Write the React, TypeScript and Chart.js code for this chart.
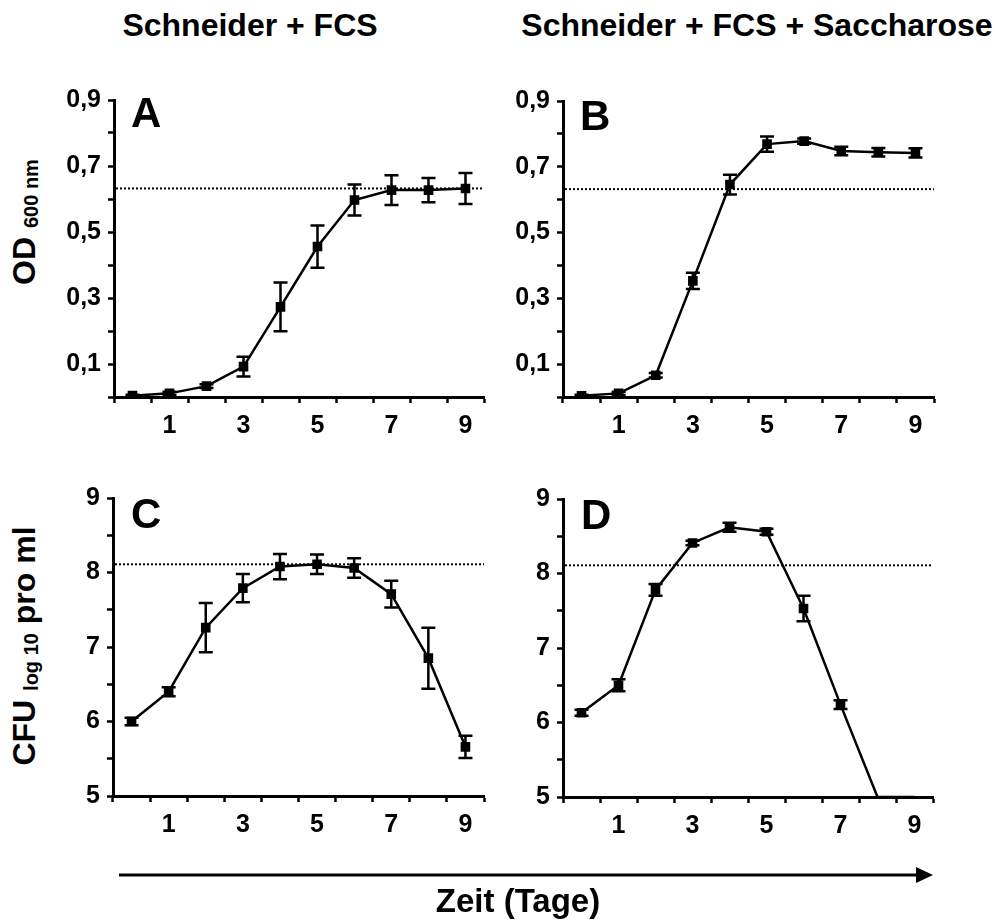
import React, { useEffect, useRef } from 'react';
import { Chart, registerables } from 'chart.js';

Chart.register(...registerables);

const FONT = '"Liberation Sans", Arial, Helvetica, sans-serif';

// ---- data ----
const days = [0, 1, 2, 3, 4, 5, 6, 7, 8, 9];
const dayTickLabels = ['', '1', '', '3', '', '5', '', '7', '', '9'];

const odTickValues = [0.1, 0.3, 0.5, 0.7, 0.9];
const odTickLabels = ['0,1', '0,3', '0,5', '0,7', '0,9'];
const cfuTickValues = [5, 6, 7, 8, 9];
const cfuTickLabels = ['5', '6', '7', '8', '9'];

const titles = ['Schneider + FCS', 'Schneider + FCS + Saccharose'];
const odAxisTitle = ['OD', '600 nm'];
const cfuAxisTitle = ['CFU', 'log 10', 'pro ml'];
const timeAxisTitle = 'Zeit (Tage)';

// A: OD600, Schneider + FCS
const odFcs = [0.004, 0.011, 0.033, 0.092, 0.273, 0.456, 0.597, 0.627, 0.627, 0.632];
const odFcsErr = [0.003, 0.005, 0.006, 0.03, 0.074, 0.064, 0.047, 0.045, 0.037, 0.047];
// B: OD600, Schneider + FCS + Saccharose
const odSacch = [0.004, 0.011, 0.066, 0.353, 0.646, 0.769, 0.778, 0.748, 0.744, 0.742];
const odSacchErr = [0.003, 0.005, 0.007, 0.025, 0.03, 0.023, 0.008, 0.013, 0.013, 0.014];
// C: CFU log10/ml, Schneider + FCS
const cfuFcs = [6.0, 6.4, 7.26, 7.79, 8.08, 8.11, 8.06, 7.71, 6.85, 5.66];
const cfuFcsErr = [0.05, 0.06, 0.33, 0.19, 0.17, 0.13, 0.13, 0.18, 0.41, 0.15];
// D: CFU log10/ml, Schneider + FCS + Saccharose
const cfuSacch = [6.13, 6.5, 7.78, 8.41, 8.62, 8.56, 7.53, 6.24, 5.0, 5.0];
const cfuSacchErr = [0.04, 0.08, 0.08, 0.03, 0.06, 0.04, 0.17, 0.06, 0, 0];

const odReference = 0.632;
const cfuReference = 8.11;

type PanelProps = {
  values: number[];
  errors: number[];
  reference: number;
  yMin: number;
  yMax: number;
  yStep: number;
  tickValues: number[];
  tickLabels: string[];
  axisX: number;
  top: number;
  bottom: number;
  right: number;
};

const Y_AXIS_W = 64;
const X_AXIS_H = 44;
const PAD_TOP = 16;
const PAD_RIGHT = 8;

function makeDecorPlugin(errors: number[], reference: number) {
  return {
    id: 'decor',
    beforeDatasetsDraw(chart: any) {
      const { ctx, chartArea, scales } = chart;
      const y = scales.y.getPixelForValue(reference);
      ctx.save();
      ctx.strokeStyle = '#000';
      ctx.lineWidth = 2;
      ctx.setLineDash([2, 2]);
      ctx.beginPath();
      ctx.moveTo(chartArea.left + 2, y);
      ctx.lineTo(chartArea.right, y);
      ctx.stroke();
      ctx.restore();
    },
    afterDatasetsDraw(chart: any) {
      const { ctx, scales } = chart;
      const ys = scales.y;
      const meta = chart.getDatasetMeta(0);
      const vals = chart.data.datasets[0].data as number[];
      ctx.save();
      ctx.strokeStyle = '#000';
      ctx.lineWidth = 2.5;
      ctx.setLineDash([]);
      meta.data.forEach((pt: any, i: number) => {
        const e = errors[i];
        if (!e) return;
        const v = vals[i];
        const x = pt.x;
        const yTop = ys.getPixelForValue(v + e);
        const yBot = ys.getPixelForValue(Math.max(v - e, ys.min));
        ctx.beginPath();
        ctx.moveTo(x, yTop);
        ctx.lineTo(x, yBot);
        ctx.moveTo(x - 7, yTop);
        ctx.lineTo(x + 7, yTop);
        ctx.moveTo(x - 7, yBot);
        ctx.lineTo(x + 7, yBot);
        ctx.stroke();
      });
      ctx.restore();
    },
  };
}

function Panel(p: PanelProps) {
  const ref = useRef<HTMLCanvasElement | null>(null);
  const left = p.axisX - Y_AXIS_W;
  const top = p.top - PAD_TOP;
  const width = p.right - left + PAD_RIGHT;
  const height = p.bottom - top + X_AXIS_H;

  useEffect(() => {
    if (!ref.current) return;
    const tickFont = { family: FONT, size: 25, weight: 'bold' as const };
    const chart = new Chart(ref.current, {
      type: 'line',
      data: {
        labels: days.map(String),
        datasets: [
          {
            data: p.values,
            borderColor: '#000',
            backgroundColor: '#000',
            borderWidth: 2.5,
            tension: 0,
            pointStyle: 'rect',
            pointBackgroundColor: '#000',
            pointBorderColor: '#000',
            pointBorderWidth: 0,
            pointRadius: (ctx: any) => (p.values[ctx.dataIndex] <= p.yMin ? 0 : 6.8),
            pointHoverRadius: 6.8,
          },
        ],
      },
      options: {
        responsive: false,
        animation: false,
        events: [],
        layout: { padding: { top: PAD_TOP, right: PAD_RIGHT, left: 0, bottom: 0 } },
        plugins: { legend: { display: false }, tooltip: { enabled: false } },
        scales: {
          x: {
            type: 'category',
            offset: true,
            border: { display: true, color: '#000', width: 3 },
            grid: {
              display: true,
              offset: true,
              drawOnChartArea: false,
              drawTicks: true,
              tickLength: 6,
              tickWidth: 2.5,
              tickColor: '#000',
              color: '#000',
            },
            ticks: {
              autoSkip: false,
              maxRotation: 0,
              minRotation: 0,
              padding: 8,
              color: '#000',
              font: tickFont,
              callback: (_v: any, i: number) => dayTickLabels[i],
            },
            afterFit: (s: any) => {
              s.height = X_AXIS_H;
            },
          },
          y: {
            type: 'linear',
            min: p.yMin,
            max: p.yMax,
            border: { display: true, color: '#000', width: 3 },
            grid: {
              display: true,
              drawOnChartArea: false,
              drawTicks: true,
              tickLength: 6,
              tickWidth: 2.5,
              tickColor: '#000',
              color: '#000',
            },
            ticks: {
              stepSize: p.yStep,
              autoSkip: false,
              padding: 7,
              color: '#000',
              font: tickFont,
              callback: (v: any) => {
                const i = p.tickValues.findIndex((t) => Math.abs(t - Number(v)) < 1e-6);
                return i >= 0 ? p.tickLabels[i] : '';
              },
            },
            afterFit: (s: any) => {
              s.width = Y_AXIS_W;
            },
          },
        },
      },
      plugins: [makeDecorPlugin(p.errors, p.reference)],
    } as any);
    return () => chart.destroy();
  }, []);

  return (
    <canvas
      ref={ref}
      width={width}
      height={height}
      style={{ position: 'absolute', left, top, width, height }}
    />
  );
}

const textBase: React.CSSProperties = {
  position: 'absolute',
  fontFamily: FONT,
  fontWeight: 'bold',
  color: '#000',
  whiteSpace: 'nowrap',
  lineHeight: 1,
};

function Letter({ ch, left, top }: { ch: string; left: number; top: number }) {
  return <div style={{ ...textBase, fontSize: 42, left, top }}>{ch}</div>;
}

export default function App() {
  return (
    <div
      style={{
        position: 'absolute',
        left: 0,
        top: 0,
        width: 995,
        height: 920,
        background: '#fff',
        overflow: 'hidden',
      }}
    >
      <div style={{ ...textBase, fontSize: 32, left: 250, top: 9, transform: 'translateX(-50%)' }}>
        {titles[0]}
      </div>
      <div style={{ ...textBase, fontSize: 32, left: 757, top: 9, transform: 'translateX(-50%)' }}>
        {titles[1]}
      </div>

      <div
        style={{
          ...textBase,
          fontSize: 32,
          left: 24,
          top: 222,
          transform: 'translate(-50%, -50%) rotate(-90deg)',
        }}
      >
        {odAxisTitle[0]}{' '}
        <span style={{ fontSize: 20, position: 'relative', top: 3 }}>{odAxisTitle[1]}</span>
      </div>
      <div
        style={{
          ...textBase,
          fontSize: 32,
          left: 24,
          top: 646,
          transform: 'translate(-50%, -50%) rotate(-90deg)',
        }}
      >
        {cfuAxisTitle[0]}{' '}
        <span style={{ fontSize: 20, position: 'relative', top: 3 }}>{cfuAxisTitle[1]}</span>{' '}
        {cfuAxisTitle[2]}
      </div>

      <Panel
        values={odFcs}
        errors={odFcsErr}
        reference={odReference}
        yMin={0}
        yMax={0.9}
        yStep={0.1}
        tickValues={odTickValues}
        tickLabels={odTickLabels}
        axisX={114}
        top={94}
        bottom={397}
        right={484}
      />
      <Panel
        values={odSacch}
        errors={odSacchErr}
        reference={odReference}
        yMin={0}
        yMax={0.9}
        yStep={0.1}
        tickValues={odTickValues}
        tickLabels={odTickLabels}
        axisX={563}
        top={95}
        bottom={397}
        right={934}
      />
      <Panel
        values={cfuFcs}
        errors={cfuFcsErr}
        reference={cfuReference}
        yMin={5}
        yMax={9}
        yStep={0.5}
        tickValues={cfuTickValues}
        tickLabels={cfuTickLabels}
        axisX={113}
        top={492}
        bottom={796}
        right={484}
      />
      <Panel
        values={cfuSacch}
        errors={cfuSacchErr}
        reference={cfuReference}
        yMin={5}
        yMax={9}
        yStep={0.5}
        tickValues={cfuTickValues}
        tickLabels={cfuTickLabels}
        axisX={563}
        top={493}
        bottom={797}
        right={933}
      />

      <Letter ch="A" left={131} top={92} />
      <Letter ch="B" left={580} top={95} />
      <Letter ch="C" left={131} top={493} />
      <Letter ch="D" left={581} top={494} />

      <svg
        width={995}
        height={920}
        style={{ position: 'absolute', left: 0, top: 0, pointerEvents: 'none' }}
      >
        <line x1={119} y1={875} x2={920} y2={875} stroke="#000" strokeWidth={3} />
        <polygon points="916,867 933,875 916,883" fill="#000" />
      </svg>

      <div style={{ ...textBase, fontSize: 33, left: 518, top: 884, transform: 'translateX(-50%)' }}>
        {timeAxisTitle}
      </div>
    </div>
  );
}
